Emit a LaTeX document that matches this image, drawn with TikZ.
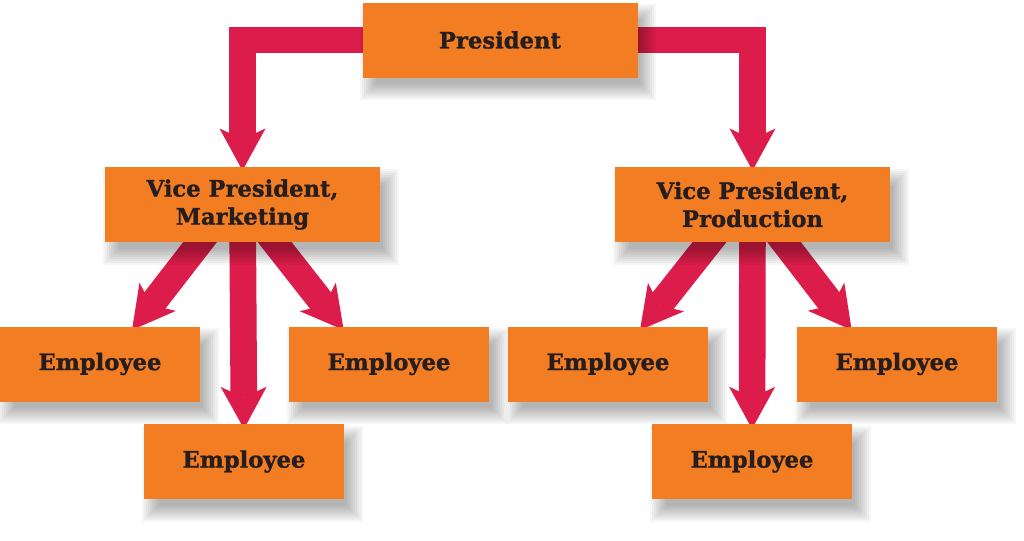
\documentclass[tikz,border=0pt]{standalone}
\usepackage{fontspec}
\setmainfont{DejaVu Serif}[BoldFeatures={FakeBold=1.2}]
\usetikzlibrary{arrows.meta,backgrounds}

\definecolor{boxorange}{RGB}{243,125,34}
\definecolor{linkred}{RGB}{220,28,74}
\definecolor{labelink}{RGB}{38,30,30}

\tikzset{
  every picture/.style={line width=0.75pt},
  orgbox/.style={fill=boxorange, draw=none, minimum height=56.25pt, align=center, text=labelink,
    font=\bfseries\fontsize{17}{21}\selectfont},
  headbox/.style={orgbox, minimum width=206.25pt},
  staffbox/.style={orgbox, minimum width=150pt},
  link/.style={draw=linkred, line width=20pt, line join=miter,
    -{Stealth[length=31.5pt, width=34.5pt, inset=8pt, line width=0pt]}},
  shadowfill/.style={fill=black, fill opacity=0.035},
}

\begin{document}
\begin{tikzpicture}[x=0.75pt,y=0.75pt,yscale=-1]
  \useasboundingbox (0,0) rectangle (1024,540);

  % top level
  \node[headbox] (pres) at (500,40) {President};

  % vice presidents
  \node[headbox] (vpm) at (242.5,204.5) {Vice President,\\Marketing};
  \node[headbox] (vpp) at (752.5,204.5) {Vice President,\\Production};

  % employees, marketing
  \node[staffbox] (eml) at (100,364) {Employee};
  \node[staffbox] (emr) at (389,364) {Employee};
  \node[staffbox] (emb) at (244,461.5) {Employee};

  % employees, production
  \node[staffbox] (epl) at (608,364) {Employee};
  \node[staffbox] (epr) at (897,364) {Employee};
  \node[staffbox] (epb) at (752,461.5) {Employee};

  \begin{scope}[on background layer]
    \fill[white] (0,0) rectangle (1024,540);
    \draw[link] (pres.center) -| ([yshift=3pt]vpm.north);
    \draw[link] (pres.center) -| ([yshift=3pt]vpp.north);
    % marketing links
    \draw[link] ([xshift=-10pt]vpm.center) -- ([xshift=24pt,yshift=3pt]eml.north);
    \draw[link] (vpm.center) -- ([yshift=4pt]emb.north);
    \draw[link] ([xshift=2pt]vpm.center) -- ([xshift=-34pt,yshift=3pt]emr.north);
    % production links
    \draw[link] ([xshift=-10pt]vpp.center) -- ([xshift=24pt,yshift=3pt]epl.north);
    \draw[link] (vpp.center) -- ([yshift=4pt]epb.north);
    \draw[link] ([xshift=2pt]vpp.center) -- ([xshift=-34pt,yshift=3pt]epr.north);
    % soft drop shadows
    \foreach \n in {pres,vpm,vpp,eml,emr,emb,epl,epr,epb}
      \foreach \r in {-6,-4,...,10}
        \fill[shadowfill] ([shift={(8-\r,12-\r)}]\n.north west) rectangle ([shift={(8+\r,12+\r)}]\n.south east);
  \end{scope}
\end{tikzpicture}
\end{document}
